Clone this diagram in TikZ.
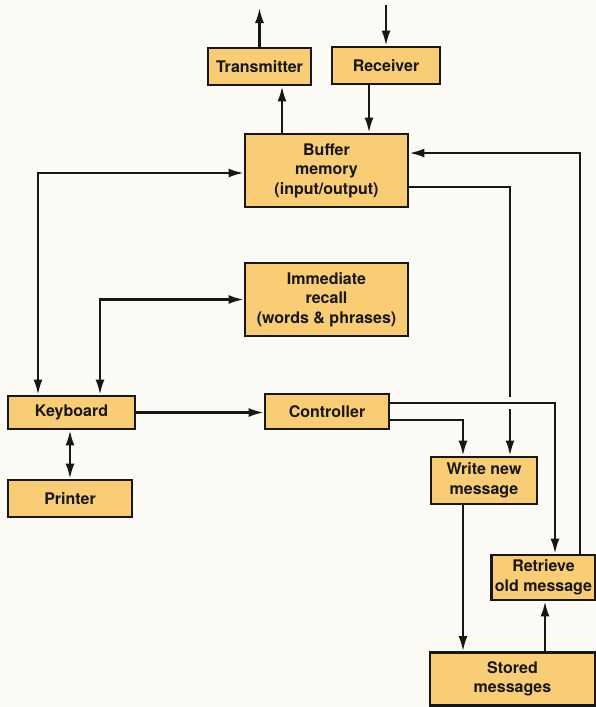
\documentclass[tikz,border=0pt]{standalone}
\usepackage{fontspec}
\setmainfont{TeX Gyre Heros}
\usepackage{tikz}
\usetikzlibrary{arrows.meta}
\usetikzlibrary{calc}
\usetikzlibrary{shadows}
\definecolor{mpaper}{RGB}{252,250,244}
\definecolor{mbox}{RGB}{248,205,118}
\definecolor{mink}{RGB}{25,23,22}
\tikzset{
  unit/.style={draw=mink, line width=2.8pt, fill=mbox, inner sep=0pt, align=center,
    text=mink, font=\fontsize{16}{19.5}\selectfont\bfseries,
    general shadow={fill=mink, shadow xshift=0.8pt, shadow yshift=-0.8pt}},
  link/.style={draw=mink, line width=2.2pt},
  >={Latex[length=15pt,width=9pt]}
}

\begin{document}
\begin{tikzpicture}[x=1pt, y=-1pt]
    \fill [mpaper] (0, 0) rectangle (596, 707);
    \useasboundingbox (0, 0) rectangle (596, 707);

    \node [unit, minimum width=103, minimum height=37] (trans) at (259.5, 66.5) {Transmitter};
    \node [unit, minimum width=108, minimum height=37] (recv) at (386, 65.5) {Receiver};
    \node [unit, minimum width=163, minimum height=73] (buffer) at (326.5, 170.5) {Buffer\\memory\\(input/output)};
    \node [unit, minimum width=163, minimum height=73] (recall) at (326.5, 299.5) {Immediate\\recall\\(words \& phrases)};
    \node [unit, minimum width=127, minimum height=33] (keyb) at (71.5, 412.5) {Keyboard};
    \node [unit, minimum width=124, minimum height=35] (ctrl) at (327, 411.5) {Controller};
    \node [unit, minimum width=124, minimum height=37] (printer) at (70, 498.5) {Printer};
    \node [unit, minimum width=106, minimum height=47] (write) at (484, 480.5) {Write new\\message};
    \node [unit, minimum width=104, minimum height=45] (retr) at (543.5, 577.5) {Retrieve\\old message};
    \node [unit, minimum width=165, minimum height=53] (stored) at (512.5, 679) {Stored\\messages};

    \coordinate (txout) at (259.5, 8);
    \coordinate (rxin) at (386, 5);
    \coordinate (txcol) at (282, 0);
    \coordinate (rxcol) at (369, 0);
    \coordinate (kcolA) at (38, 0);
    \coordinate (kcolB) at (100, 0);
    \coordinate (wcol) at (510, 0);
    \coordinate (rcol) at (580, 0);
    \coordinate (ccolA) at (555, 0);
    \coordinate (ccolB) at (463, 0);
    \coordinate (scol) at (545, 0);
    \coordinate (hopA) at (510, 397);
    \coordinate (hopB) at (510, 409);

    \draw [link, ->] (trans.north) -- (txout);
    \draw [link, ->] (rxin) -- (recv.north);
    \draw [link, ->] (buffer.north -| txcol) -- (trans.south -| txcol);
    \draw [link, ->] (recv.south -| rxcol) -- (buffer.north -| rxcol);

    \draw [link, <->] ($(buffer.west)+(0, 2.5)$) -| (keyb.north -| kcolA);
    \draw [link, <->] (recall.west) -| (keyb.north -| kcolB);
    \draw [link, ->] (keyb.east) -- (keyb.east -| ctrl.west);
    \draw [link, <->] (printer.north |- keyb.south) -- (printer.north);

    \draw [link, ->] ($(buffer.east)+(0, 16.5)$) -| (hopA) (hopB) -- (write.north -| wcol);
    \draw [link, ->] (retr.north -| rcol) |- ($(buffer.east)+(0, -17.5)$);
    \draw [link, ->] ($(ctrl.east)+(0, -8.5)$) -| (retr.north -| ccolA);
    \draw [link, ->] ($(ctrl.east)+(0, 8.5)$) -| (write.north -| ccolB);
    \draw [link, ->] (write.south -| ccolB) -- (stored.north -| ccolB);
    \draw [link, ->] (stored.north -| scol) -- (retr.south -| scol);
  \end{tikzpicture}
\end{document}
